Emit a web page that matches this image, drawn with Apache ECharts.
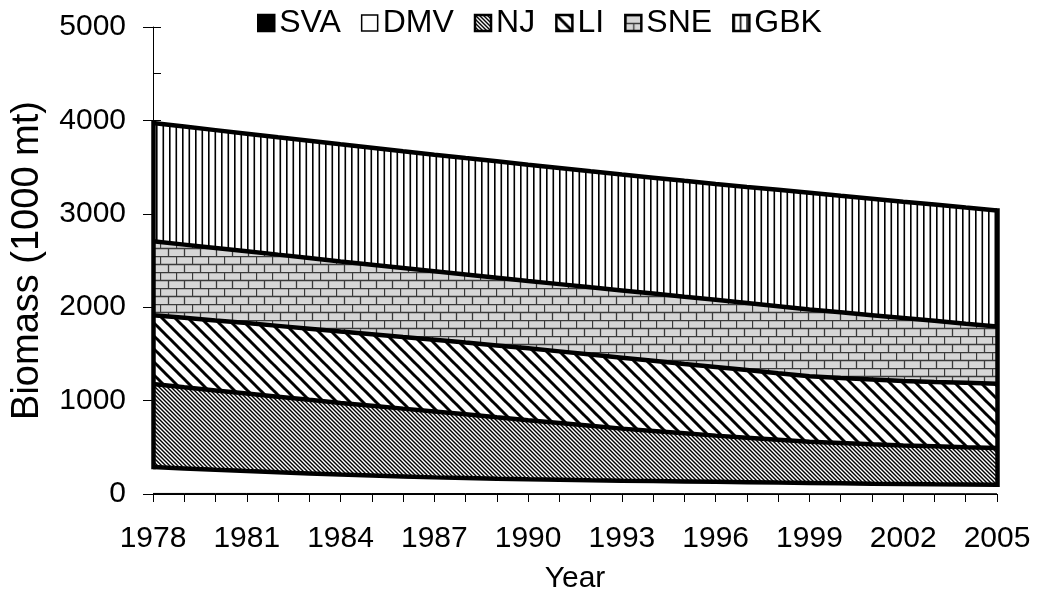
<!DOCTYPE html>
<html>
<head>
<meta charset="utf-8">
<script src="https://cdn.jsdelivr.net/npm/echarts@6/dist/echarts.min.js"></script>
<style>
  html, body { margin: 0; padding: 0; background: #fff; }
  #chart { width: 1037px; height: 611px; }
</style>
</head>
<body>
<div id="chart"></div>
<script>
var years = [1978, 1979, 1980, 1981, 1982, 1983, 1984, 1985, 1986, 1987, 1988, 1989, 1990, 1991,
             1992, 1993, 1994, 1995, 1996, 1997, 1998, 1999, 2000, 2001, 2002, 2003, 2004, 2005];
var xTickLabels = ['1978', '1981', '1984', '1987', '1990', '1993', '1996', '1999', '2002', '2005'];
var yTickLabels = ['0', '1000', '2000', '3000', '4000', '5000'];

// biomass by region (1000 mt), stacked bottom to top
var sva = [6, 6, 6, 6, 6, 5, 5, 5, 5, 5, 5, 5, 4, 4, 4, 4, 4, 4, 4, 4, 3, 3, 3, 3, 3, 3, 3, 3];
var dmv = [283, 268, 253, 239, 226, 215, 203, 193, 183, 173, 166, 159, 154, 149,
           143, 138, 134, 130, 126, 122, 119, 116, 112, 108, 105, 102, 100, 97];
var nj  = [889, 869, 850, 830, 810, 788, 767, 747, 726, 706, 682, 657, 632, 607,
           583, 558, 537, 516, 495, 477, 460, 441, 432, 422, 412, 406, 398, 392];
var li  = [737, 744, 749, 755, 758, 762, 765, 766, 767, 768, 768, 770, 770, 767,
           763, 760, 752, 743, 735, 724, 711, 700, 696, 694, 690, 689, 690, 689];
var sne = [790, 783, 777, 770, 763, 757, 750, 744, 739, 733, 729, 724, 720, 720,
           720, 720, 720, 720, 720, 718, 717, 715, 702, 688, 675, 655, 633, 613];
var gbk = [1267, 1264, 1261, 1258, 1257, 1256, 1255, 1253, 1250, 1248, 1247, 1247, 1246, 1244,
           1242, 1240, 1240, 1240, 1240, 1243, 1247, 1250, 1248, 1247, 1245, 1244, 1243, 1242];

var FONT = 'Liberation Sans, Arial, sans-serif';
var FS = 30;

function tile(w, h, draw) {
  var c = document.createElement('canvas');
  c.width = w; c.height = h;
  draw(c.getContext('2d'), w, h);
  return { image: c, repeat: 'repeat' };
}
function stripes(p, lw) {
  return tile(p, p, function (ctx) {
    ctx.fillStyle = '#fff';
    ctx.fillRect(0, 0, p, p);
    ctx.strokeStyle = '#000';
    ctx.lineWidth = lw;
    for (var k = -1; k <= 1; k++) {
      ctx.beginPath();
      ctx.moveTo(k * p - 1, -1);
      ctx.lineTo(k * p + p + 1, p + 1);
      ctx.stroke();
    }
  });
}
var fillNJ = stripes(4, 1.4);
var fillLI = stripes(13, 3);
var fillSNE = tile(16, 16, function (ctx) {
  ctx.fillStyle = '#d6d6d6';
  ctx.fillRect(0, 0, 16, 16);
  ctx.strokeStyle = '#3a3a3a';
  ctx.lineWidth = 1.3;
  ctx.beginPath();
  ctx.moveTo(0, 0.5); ctx.lineTo(16, 0.5);
  ctx.moveTo(0, 8.5); ctx.lineTo(16, 8.5);
  ctx.moveTo(0.5, 0); ctx.lineTo(0.5, 8);
  ctx.moveTo(8.5, 8); ctx.lineTo(8.5, 16);
  ctx.stroke();
});
var fillGBK = tile(13, 4, function (ctx) {
  ctx.fillStyle = '#fff';
  ctx.fillRect(0, 0, 13, 4);
  ctx.fillStyle = '#000';
  ctx.fillRect(0, 0, 1.6, 4);
  ctx.fillRect(6.5, 0, 1.6, 4);
});

// running totals: each layer is drawn as its cumulative top, filled down to zero,
// lower layers painted over higher ones
var layers = [sva, dmv, nj, li, sne, gbk];
var cum = [];
layers.forEach(function (arr, k) {
  cum.push(arr.map(function (v, i) { return v + (k ? cum[k - 1][i] : 0); }));
});

function area(name, k, fill, lineWidth) {
  return {
    name: name,
    type: 'line',
    z: 20 - k,
    symbol: 'none',
    silent: true,
    animation: false,
    data: years.map(function (y, i) { return [y, cum[k][i]]; }),
    lineStyle: { color: '#000', width: lineWidth },
    areaStyle: { color: fill, opacity: 1 },
    itemStyle: { color: fill, borderColor: '#000', borderWidth: 2 }
  };
}

var last = years.length - 1;
var series = [
  area('SVA', 0, '#000', 1),
  area('DMV', 1, '#fff', 4.5),
  area('NJ', 2, fillNJ, 4.5),
  area('LI', 3, fillLI, 4.5),
  area('SNE', 4, fillSNE, 4.5),
  area('GBK', 5, fillGBK, 4.5)
];
series[5].markLine = {
  symbol: 'none', silent: true, animation: false, z: 30,
  label: { show: false },
  lineStyle: { color: '#000', width: 4.5, type: 'solid', cap: 'square' },
  data: [
    [{ coord: [years[0], cum[1][0]] }, { coord: [years[0], cum[5][0]] }],
    [{ coord: [years[last], cum[1][last]] }, { coord: [years[last], cum[5][last]] }]
  ]
};

var chart = echarts.init(document.getElementById('chart'));
chart.setOption({
  animation: false,
  backgroundColor: '#fff',
  textStyle: { fontFamily: FONT },
  legend: {
    left: 252, top: 2,
    icon: 'rect',
    itemWidth: 16, itemHeight: 16, itemGap: 20,
    textStyle: { fontSize: 32, color: '#000', fontFamily: FONT },
    data: ['SVA', 'DMV', 'NJ', 'LI', 'SNE', 'GBK'].map(function (n) {
      return { name: n, itemStyle: { borderColor: '#000', borderWidth: n === 'DMV' ? 1.5 : 2.5 } };
    })
  },
  grid: { left: 153, right: 40, top: 27, bottom: 117 },
  xAxis: [{
    type: 'value', min: 1978, max: 2005, interval: 1, position: 'bottom',
    name: 'Year', nameLocation: 'middle', nameGap: 70,
    nameTextStyle: { fontSize: FS, color: '#000', fontFamily: FONT },
    axisLine: { onZero: false, lineStyle: { color: '#000', width: 1 } },
    axisTick: { length: 8, lineStyle: { color: '#000', width: 1 } },
    axisLabel: {
      margin: 30, fontSize: FS, color: '#000', fontFamily: FONT,
      formatter: function (v) { var s = String(v); return xTickLabels.indexOf(s) >= 0 ? s : ''; }
    },
    splitLine: { show: false }
  }, {
    type: 'value', min: 1978, max: 2005, interval: 1, position: 'bottom', offset: 0,
    axisLine: { show: false, onZero: false },
    axisTick: { show: false, inside: true },
    minorTick: { show: true, splitNumber: 2, length: 6, lineStyle: { color: '#000', width: 1 } },
    axisLabel: { show: false },
    splitLine: { show: false }, minorSplitLine: { show: false }
  }],
  yAxis: [{
    type: 'value', min: 0, max: 5000, interval: 1000, position: 'left',
    name: 'Biomass (1000 mt)', nameLocation: 'middle', nameGap: 106,
    nameTextStyle: { fontSize: 38, color: '#000', fontFamily: FONT },
    axisLine: { show: true, onZero: false, lineStyle: { color: '#000', width: 1 } },
    axisTick: { show: true, length: 10, lineStyle: { color: '#000', width: 1 } },
    axisLabel: {
      margin: 27, fontSize: FS, color: '#000', fontFamily: FONT,
      formatter: function (v) { return yTickLabels[Math.round(v / 1000)]; }
    },
    splitLine: { show: false }
  }, {
    type: 'value', min: 0, max: 5000, interval: 1000, position: 'left', offset: 0,
    axisLine: { show: false, onZero: false },
    axisTick: { show: true, inside: true, length: 8, lineStyle: { color: '#000', width: 1 } },
    minorTick: { show: true, splitNumber: 2, length: 8, lineStyle: { color: '#000', width: 1 } },
    axisLabel: { show: false },
    splitLine: { show: false }, minorSplitLine: { show: false }
  }],
  series: series
});
</script>
</body>
</html>
